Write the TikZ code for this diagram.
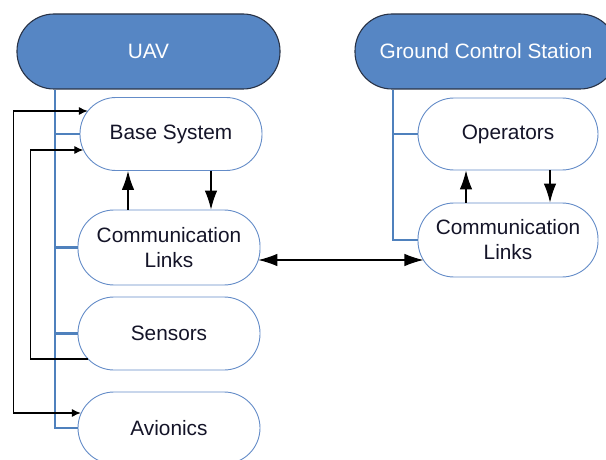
\documentclass[tikz,border=0pt]{standalone}
\usepackage{fontspec}
\setmainfont{Liberation Sans}
\usetikzlibrary{arrows.meta,calc}
\definecolor{hdrblue}{RGB}{86,134,196}
\definecolor{hdredge}{RGB}{40,50,70}
\definecolor{boxedge}{RGB}{100,140,200}
\definecolor{trunkblue}{RGB}{79,129,189}
\definecolor{txtdark}{RGB}{20,20,40}
\tikzset{
  header/.style={draw=hdredge, line width=1.1pt, fill=hdrblue, text=white,
    rounded corners=37pt, minimum height=75pt, inner sep=0pt,
    font=\fontsize{20.8}{25}\selectfont},
  sub/.style={draw=boxedge, line width=0.9pt, fill=white, text=txtdark,
    rounded corners=36pt, minimum width=182pt, minimum height=73pt, inner sep=0pt,
    align=center, font=\fontsize{20.8}{25}\selectfont},
  trunk/.style={draw=trunkblue, line width=2.6pt},
  bigtip/.tip={Latex[length=19pt,width=12.5pt]},
  smalltip/.tip={Latex[length=9pt,width=8pt]},
  arr/.style={draw=black, line width=1.1pt, -bigtip},
  darr/.style={draw=black, line width=1.1pt, bigtip-bigtip},
  loopd/.style={draw=black, line width=1.1pt, smalltip-smalltip},
  loopa/.style={draw=black, line width=1.1pt, -smalltip}
}
\begin{document}
\begin{tikzpicture}[x=1pt,y=-1pt]
\useasboundingbox (0,0) rectangle (606,460);
\begin{scope}
\clip (0,0) rectangle (606,460);
% headers
\node[header, minimum width=263pt] (uav) at (148.5,51.5) {UAV};
\node[header, minimum width=262pt] (gcs) at (486,51.5) {Ground Control Station};
% UAV children
\node[sub] (base) at (171,134) {Base System};
\node[sub, minimum height=75pt] (comm) at (169,247.5) {Communication\\Links};
\node[sub] (sens) at (169,333.5) {Sensors};
\node[sub, minimum height=72pt] (avio) at (169,428) {Avionics};
% GCS children
\node[sub, minimum width=180pt, minimum height=72pt] (ops) at (508,134) {Operators};
\node[sub, minimum width=180pt, minimum height=74pt] (gcomm) at (508,240) {Communication\\Links};
% trunk coordinates
\coordinate (ut) at (55,0);
\coordinate (gt) at (393,0);
% UAV trunk
\draw[trunk] (uav.south -| ut) -- (ut |- avio.west) -- (avio.west);
\draw[trunk] (ut |- base.west) -- (base.west);
\draw[trunk] (ut |- comm.west) -- (comm.west);
\draw[trunk] (ut |- sens.west) -- (sens.west);
% GCS trunk
\draw[trunk] (gcs.south -| gt) -- (gt |- gcomm.west) -- (gcomm.west);
\draw[trunk] (gt |- ops.west) -- (ops.west);
% vertical arrows
\coordinate (u1) at (128,0);
\coordinate (d1) at (211,0);
\coordinate (u2) at (466,0);
\coordinate (d2) at (550,0);
\draw[arr] (comm.north -| u1) -- (base.south -| u1);
\draw[arr] (base.south -| d1) -- (comm.north -| d1);
\draw[arr] (gcomm.north -| u2) -- (ops.south -| u2);
\draw[arr] (ops.south -| d2) -- (gcomm.north -| d2);
% left loops
\draw[loopd] ([xshift=8.3pt,yshift=23pt]base.west) -- ++(-74.3,0) |- ([xshift=3.3pt,yshift=15pt]avio.west);
\draw[loopa] ([xshift=10.4pt,yshift=-25.5pt]sens.west) -- ++(-57.4,0) |- ([xshift=3.8pt,yshift=-16pt]base.west);
% link between communication nodes
\draw[darr] ([xshift=-2.1pt,yshift=-12.5pt]comm.east) -- ([xshift=5.9pt,yshift=-20pt]gcomm.west);
\end{scope}
\end{tikzpicture}
\end{document}
